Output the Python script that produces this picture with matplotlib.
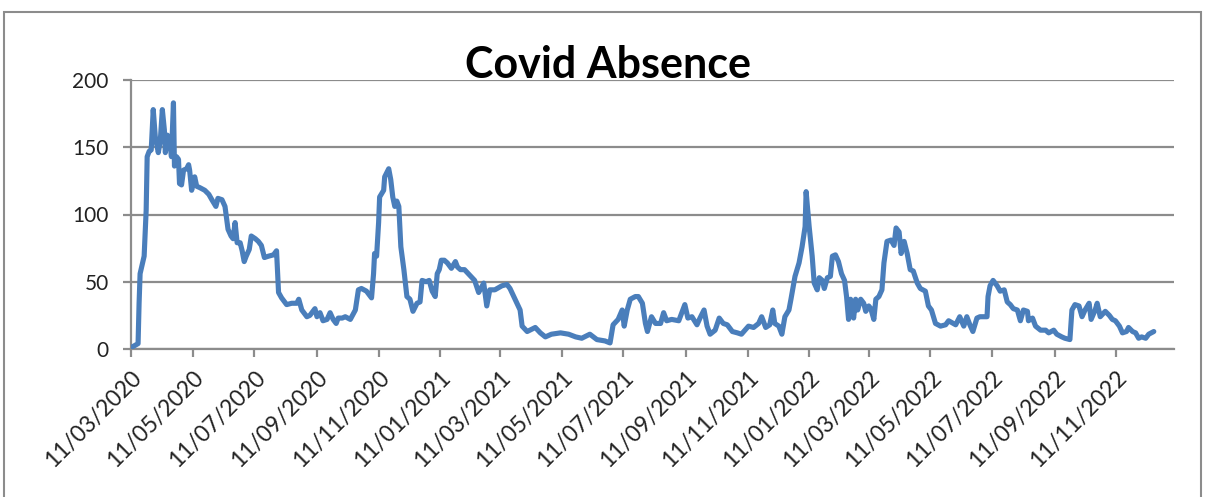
import numpy as np
import pandas as pd
import matplotlib
matplotlib.use('Agg')
import matplotlib.pyplot as plt
import matplotlib.dates as mdates
from matplotlib.patches import Rectangle

plt.rcParams['font.family'] = ['Lato', 'DejaVu Sans']

# data, day offsets counted from 11/03/2020
start = '2020-03-11'
days = [0, 7, 8, 9, 12, 13, 15, 16, 18, 20, 22, 24, 27, 29, 31, 33, 34, 36, 39, 40,
        42, 43, 45, 47, 48, 50, 52, 55, 57, 58, 60, 63, 65, 68, 73, 77, 80, 84, 86, 90,
        93, 96, 99, 101, 103, 105, 108, 110, 112, 114, 117, 119, 123, 126, 129, 132, 136, 141, 144, 146,
        149, 154, 159, 164,
        166, 169, 174, 177, 182, 184, 187, 190, 194, 197, 200, 203, 205, 209, 212, 217, 222, 225, 228, 233,
        238, 240, 241, 243, 245, 246, 250, 251, 255, 257, 259, 261, 263, 265, 267, 270, 273, 276, 279, 283,
        286, 288, 292, 295, 298, 301, 303, 305, 307, 310, 313, 317, 321, 323, 326,
        330, 340, 344, 349, 352, 355, 360, 367, 372, 375, 380, 385, 387, 392, 400, 405, 410, 416, 425, 433,
        440, 446, 454, 461, 469, 474, 477, 482, 486, 488, 491, 494, 499,
        502, 506, 509, 511, 515, 519, 524, 527, 530, 535, 542, 548, 551, 555, 560, 563, 567, 570, 573, 578,
        582, 586, 590, 595, 600, 604, 611, 616, 621, 624, 628, 632, 635, 637, 641, 644, 647, 651, 653, 657,
        661, 664, 667, 668,
        670, 671, 674, 676, 679, 681, 684, 686, 689, 692, 694, 697, 700, 703, 706, 708, 710, 712, 715, 717,
        719, 722, 725, 727, 730, 732, 735, 737, 740, 743, 745, 748, 752, 755, 757, 760, 762, 765, 768, 771,
        774, 778, 781, 786, 789, 792, 796, 801, 806, 809, 816, 820, 824, 827, 830, 833,
        837, 840, 847, 848, 850, 853, 857, 860, 864, 867, 870, 873, 877, 880, 883, 887, 888, 892, 895, 900,
        905, 908, 913, 916, 921, 924, 929, 931, 934, 938, 941, 944, 948, 950, 954, 956, 959, 964, 968, 971,
        974, 978, 981, 985, 987, 991, 994, 997, 1000, 1004, 1007, 1012]
absence = [1, 4, 34, 56, 66, 69, 103, 143, 147, 148, 178, 158, 146, 155, 178, 163, 146, 159, 150, 143,
           183, 136, 143, 141, 123, 122, 133, 134, 137, 133, 118, 128, 121, 120, 118, 115, 111, 106, 112, 111,
           106, 89, 84, 82, 94, 79, 79, 73, 65, 69, 74, 84, 82, 80, 77, 68, 69, 70, 73, 42,
           38, 33, 34, 34,
           37, 29, 24, 25, 30, 24, 27, 21, 22, 27, 22, 19, 23, 23, 24, 22, 29, 44, 45, 43,
           38, 56, 71, 69, 94, 113, 118, 128, 134, 126, 113, 106, 110, 106, 76, 59, 39, 37, 28, 34,
           35, 51, 50, 51, 43, 39, 56, 59, 66, 66, 64, 60, 65, 61, 59,
           59, 51, 42, 49, 32, 44, 44, 47, 48, 45, 37, 29, 17, 13, 16, 12, 9, 11, 12, 11,
           9, 8, 11, 7, 6, 4.5, 18, 22, 29, 17, 29, 37, 39,
           39, 34, 19, 13, 24, 19, 19, 27, 21, 22, 21, 33, 23, 24, 18, 23, 29, 17, 11, 14,
           23, 19, 18, 13, 12, 11, 17, 16, 19, 24, 16, 18, 29, 19, 17, 11, 24, 29, 37, 54,
           64, 76, 91, 117,
           100, 91, 69, 49, 44, 53, 51, 45, 53, 54, 69, 70, 65, 56, 51, 39, 22, 37, 23, 37,
           29, 37, 34, 28, 32, 30, 22, 37, 39, 44, 64, 80, 81, 77, 90, 87, 71, 80, 71, 59,
           58, 49, 45, 43, 32, 29, 19, 17, 18, 21, 18, 24, 17, 24, 18, 13,
           23, 24, 24, 39, 47, 51, 47, 43, 44, 35, 33, 30, 29, 21, 29, 28, 21, 23, 17, 14,
           14, 12, 14, 11, 9, 8, 7, 29, 33, 32, 24, 29, 34, 22, 29, 34, 24, 28, 25, 22,
           21, 17, 12, 13, 16, 13, 12, 8, 9, 8, 11, 13]
y_ticks = [0, 50, 100, 150, 200]

dates = pd.to_datetime(start) + pd.to_timedelta(days, unit='D')
tick_dates = pd.date_range(start, periods=17, freq=pd.DateOffset(months=2))

grey = '#8c8c8c'

fig = plt.figure(figsize=(12.06, 4.97), dpi=100)
ax = fig.add_axes([131 / 1206, 1 - 349 / 497, (1174 - 131) / 1206, (349 - 80) / 497])

ax.plot(dates, absence, color='#4a7ebb', linewidth=3.7, solid_joinstyle='round',
        solid_capstyle='round', zorder=3)

ax.set_ylim(0, 200)
ax.set_yticks(y_ticks)
ax.set_xlim(pd.to_datetime(start), pd.to_datetime(start) + pd.Timedelta(days=1032))
ax.set_xticks(tick_dates)
ax.xaxis.set_major_formatter(mdates.DateFormatter('%d/%m/%Y'))

ax.grid(axis='y', color=grey, linewidth=1.6)
ax.set_axisbelow(True)
for side in ['top', 'right']:
    ax.spines[side].set_visible(False)
for side in ['left', 'bottom']:
    ax.spines[side].set_color(grey)
    ax.spines[side].set_linewidth(1.6)

ax.tick_params(axis='both', colors=grey, width=1.6, length=6, labelcolor='#222222')
ax.tick_params(axis='y', pad=10, labelsize=15)
ax.tick_params(axis='x', pad=7, labelsize=16.5)
for lab in ax.get_xticklabels():
    lab.set_rotation(45)
    lab.set_ha('right')
    lab.set_rotation_mode('anchor')

fig.text(0.504, 1 - 78 / 497, 'Covid Absence', ha='center', va='baseline',
         fontsize=31, fontweight='bold', color='black')

# chart area border
fig.add_artist(Rectangle((4 / 1206, -0.1), 1197 / 1206, 1.1 - 12 / 497, fill=False,
                         edgecolor=grey, linewidth=1.5, transform=fig.transFigure))

fig.savefig('out.png', dpi=100)
